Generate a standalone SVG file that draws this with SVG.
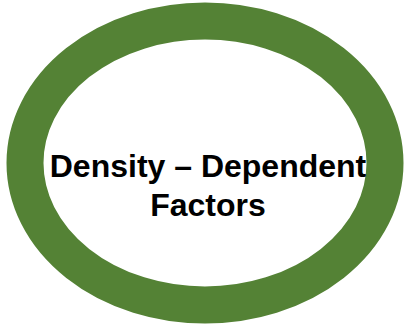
<svg xmlns="http://www.w3.org/2000/svg" width="404" height="324" viewBox="0 0 404 324">
<style>
.ring{fill:#ffffff;stroke:#548235;stroke-width:37}
.lbl{font-family:"Liberation Sans",Arial,sans-serif;font-weight:bold;font-size:32px;fill:#000000;text-anchor:middle}
</style>
<rect width="404" height="324" fill="#ffffff"/>
<g id="node-density">
<ellipse class="ring" cx="205" cy="163" rx="180" ry="142"/>
<text class="lbl" x="208" y="177">Density – Dependent</text>
<text class="lbl" x="208" y="216">Factors</text>
</g>
<g id="connectors"/>
</svg>
